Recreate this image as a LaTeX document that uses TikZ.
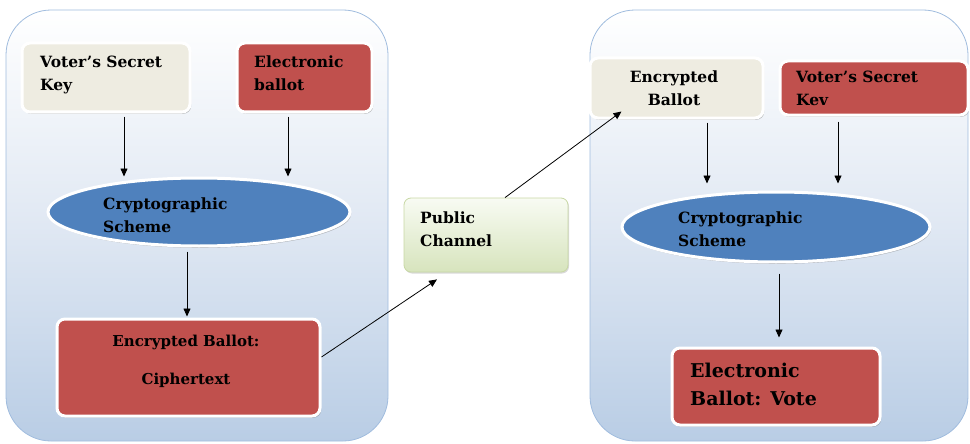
\documentclass[tikz,border=0pt]{standalone}
\usepackage{fontspec}
\setmainfont{DejaVu Serif}
\usetikzlibrary{arrows.meta,shapes.geometric,shadows}
\definecolor{cream}{RGB}{238,236,225}
\definecolor{redb}{RGB}{192,80,77}
\definecolor{blueb}{RGB}{79,129,189}
\definecolor{contb}{RGB}{160,188,222}
\definecolor{contbot}{RGB}{185,205,229}
\definecolor{contmid}{RGB}{224,232,243}
\definecolor{greentop}{RGB}{248,251,243}
\definecolor{greenbot}{RGB}{215,228,189}
\definecolor{greenline}{RGB}{200,216,165}
\begin{document}
\begin{tikzpicture}[x=1pt,y=-1pt,
  container/.style={rectangle, draw=contb, line width=0.8pt, rounded corners=45pt,
    top color=white, bottom color=contbot, middle color=contmid, inner sep=0pt},
  box/.style={rectangle, rounded corners=8pt, draw=white, line width=3pt, inner sep=0pt,
    drop shadow={shadow xshift=1.2pt, shadow yshift=-1.8pt, opacity=0.45, fill=black!55}},
  ellbox/.style={ellipse, draw=white, line width=3pt, inner sep=0pt, fill=blueb,
    drop shadow={shadow xshift=1.2pt, shadow yshift=-1.8pt, opacity=0.45, fill=black!55}},
  txt/.style={font=\fontsize{15.5}{23}\selectfont\bfseries, align=left, anchor=base west, inner sep=0pt},
  arr/.style={draw=black, line width=0.8pt, -{Triangle[length=8pt,width=7pt]}}
]
\useasboundingbox (0,0) rectangle (970,444);
% containers
\node[container, minimum width=382pt, minimum height=431pt] (lc) at (197,225.5) {};
\node[container, minimum width=378pt, minimum height=431pt] (rc) at (779,225.5) {};

% left side
\node[box, fill=cream, minimum width=168pt, minimum height=69pt] (vsk) at (106,77.5) {};
\node[txt] (vskt) at (40,91) {Voter’s Secret\\Key};
\node[box, fill=redb, minimum width=135pt, minimum height=69pt] (eb) at (304.5,77.5) {};
\node[txt] (ebt) at (254,91) {Electronic\\ballot};
\node[ellbox, minimum width=302pt, minimum height=68pt] (ell1) at (199,212) {};
\node[txt] (ell1t) at (103,232) {Cryptographic\\Scheme};
\node[box, fill=redb, minimum width=263pt, minimum height=97pt] (encb) at (188.5,367.5) {};
\node[txt, align=center, anchor=base, font=\fontsize{15}{38}\selectfont\bfseries] (encbt) at (186,384) {Encrypted Ballot:\\Ciphertext};

% public channel
\node[rectangle, rounded corners=7pt, draw=greenline, line width=0.8pt, top color=greentop, bottom color=greenbot,
  minimum width=164pt, minimum height=74pt,
  drop shadow={shadow xshift=1pt, shadow yshift=-1.5pt, opacity=0.3, fill=black!50}] (pc) at (486,235) {};
\node[txt] (pct) at (420,246) {Public\\Channel};

% right side
\node[box, fill=cream, minimum width=173pt, minimum height=60pt] (rencb) at (676.5,88) {};
\node[txt, align=center, anchor=base] (rencbt) at (674,106) {Encrypted\\Ballot};
\node[box, fill=redb, minimum width=188pt, minimum height=54pt] (rvsk) at (874,88) {};
\node[txt] (rvskt) at (796,106) {Voter’s Secret\\Kev};
\node[ellbox, minimum width=308pt, minimum height=70pt] (ell2) at (776,227) {};
\node[txt] (ell2t) at (678,246) {Cryptographic\\Scheme};
\node[box, fill=redb, minimum width=208pt, minimum height=77pt] (vote) at (776,386.5) {};
\node[txt, font=\fontsize{19}{28}\selectfont\bfseries] (votet) at (690,405) {Electronic\\Ballot: Vote};

% connectors
\draw[arr] (vsk.south -| 124,0) ++(0,3) -- (ell1.north -| 124,0);
\draw[arr] (eb.south -| 288,0) ++(0,3) -- (ell1.north -| 288,0);
\draw[arr] (ell1.south -| 187,0) ++(0,4) -- ([yshift=1pt]encb.north -| 187,0);
\draw[arr] ([yshift=10.5pt]encb.east) -- ([xshift=-49pt,yshift=-7pt]pc.south);
\draw[arr] ([xshift=19pt]pc.north) -- ([xshift=-55pt,yshift=8pt]rencb.south);
\draw[arr] (rencb.south -| 707,0) ++(0,3) -- ([yshift=7pt]ell2.north -| 707,0);
\draw[arr] (rvsk.south -| 838,0) ++(0,5) -- ([yshift=7pt]ell2.north -| 838,0);
\draw[arr] (ell2.south -| 779,0) ++(0,10) -- ([yshift=9pt]vote.north -| 779,0);
\end{tikzpicture}
\end{document}
